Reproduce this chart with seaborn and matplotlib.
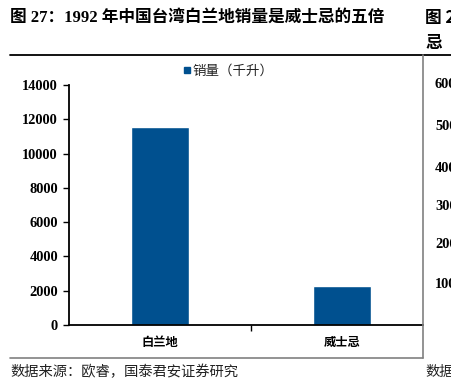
import matplotlib
matplotlib.use("Agg")
import matplotlib.pyplot as plt
from matplotlib.lines import Line2D
from matplotlib.patches import Rectangle
import seaborn as sns
import pandas as pd

# ---- data ----
categories = ["白兰地", "威士忌"]
sales = [11550, 2280]
series_name = "销量（千升）"
y_ticks = [0, 2000, 4000, 6000, 8000, 10000, 12000, 14000]
right_chart_ticks = ["600", "500", "400", "300", "200", "100"]

title = "图 27：1992 年中国台湾白兰地销量是威士忌的五倍"
source = "数据来源：欧睿，国泰君安证券研究"

sns.set_theme(style="white")
plt.rcParams['font.family'] = ['Liberation Serif', 'Noto Sans CJK SC', 'DejaVu Sans']

W, H = 452, 383
fig = plt.figure(figsize=(W / 100, H / 100), dpi=100)

def fx(px):
    return px / W

def fy(py):
    return 1 - py / H

ax_left, ax_right, ax_top, ax_bottom = 69, 423, 85, 325
ax = fig.add_axes([fx(ax_left), fy(ax_bottom), fx(ax_right - ax_left), (ax_bottom - ax_top) / H])

df = pd.DataFrame({"cat": categories, "val": sales})
BAR = "#00508F"
sns.barplot(data=df, x="cat", y="val", color=BAR, width=0.315, ax=ax, saturation=1)

ax.set_xlim(-0.5, 1.445)
ax.set_ylim(0, 14000)
ax.set_yticks(y_ticks)
ax.set_yticklabels([str(v) for v in y_ticks], fontfamily="Liberation Serif",
                   fontweight="bold", fontsize=10.4, color="black")
ax.set_xticks([0, 1])
ax.set_xticklabels(categories, fontfamily=["Noto Sans CJK SC"], fontweight="bold",
                   fontsize=8.8, color="black")
ax.set_xticks([0.5], minor=True)
ax.tick_params(axis="x", which="major", length=0, pad=8)
ax.tick_params(axis="x", which="minor", length=4, width=1, color="black", direction="out", bottom=True)
ax.tick_params(axis="y", length=4, width=1, color="black", direction="out", left=True, pad=4)
ax.set_xlabel("")
ax.set_ylabel("")
for s in ["top", "right"]:
    ax.spines[s].set_visible(False)
for s in ["left", "bottom"]:
    ax.spines[s].set_color("black")
    ax.spines[s].set_linewidth(1.3)
ax.grid(False)

# legend
fig.add_artist(Rectangle((fx(184), fy(72.5)), fx(5.5), 5.5 / H, color=BAR, transform=fig.transFigure))
fig.text(fx(192.5), fy(71), series_name, fontsize=9.7, family=["Noto Sans CJK SC"],
         ha="left", va="center", color="#222222")

# title
fig.text(fx(10), fy(18), title, fontsize=12, fontweight="bold",
         family=["Liberation Serif", "Noto Sans CJK SC"], ha="left", va="center", color="black")
fig.text(fx(425), fy(18), "图 2", fontsize=12, fontweight="bold",
         family=["Noto Sans CJK SC"], ha="left", va="center", color="black")
fig.text(fx(425), fy(43), "忌", fontsize=12, fontweight="bold",
         family=["Noto Sans CJK SC"], ha="left", va="center", color="black")

# frame lines
fig.add_artist(Line2D([fx(10), fx(452)], [fy(55), fy(55)], color="black", lw=1.3))
fig.add_artist(Line2D([fx(423), fx(423)], [fy(55), fy(358)], color="#808080", lw=1.2))
fig.add_artist(Line2D([fx(10), fx(423)], [fy(358), fy(358)], color="#808080", lw=1.2))

# right neighbouring chart fragments (cut off at the edge as in the reference)
for lab, py in zip(right_chart_ticks, [85, 126, 168, 207, 245, 285]):
    fig.text(fx(435), fy(py), lab, fontsize=10.4, fontweight="bold",
             family="Liberation Serif", ha="left", va="center", color="black")

# footer
fig.text(fx(10), fy(372), source, fontsize=10.3, family=["Noto Sans CJK SC"],
         ha="left", va="center", color="#222222")
fig.text(fx(425), fy(372), "数据", fontsize=10.3, family=["Noto Sans CJK SC"],
         ha="left", va="center", color="#222222")

fig.savefig("out.png", dpi=100)
